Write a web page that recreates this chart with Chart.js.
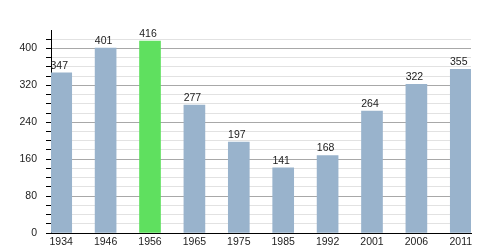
<!DOCTYPE html>
<html>
<head>
<meta charset="utf-8">
<script src="https://cdn.jsdelivr.net/npm/chart.js@4/dist/chart.umd.min.js"></script>
<style>
  html, body { margin: 0; padding: 0; background: #fff; }
  #wrap { width: 500px; height: 250px; }
</style>
</head>
<body>
<div id="wrap"><canvas id="popChart"></canvas></div>
<script>
// data dari grafik
const years = ['1934', '1946', '1956', '1965', '1975', '1985', '1992', '2001', '2006', '2011'];
const population = [347, 401, 416, 277, 197, 141, 168, 264, 322, 355];
const highlightYear = '1956';

const yMax = 440;
const yMinorStep = 20;
const yMajorStep = 80;

const barColor = '#99b3cc';
const highlightColor = '#5fe05f';
const fontFamily = '"Liberation Sans", Arial, sans-serif';

// label angka di atas batang
const valueLabels = {
  id: 'valueLabels',
  afterDatasetsDraw(chart) {
    const ctx = chart.ctx;
    const meta = chart.getDatasetMeta(0);
    ctx.save();
    ctx.font = '10.5px ' + fontFamily;
    ctx.fillStyle = '#222';
    ctx.textAlign = 'center';
    ctx.textBaseline = 'alphabetic';
    meta.data.forEach((bar, i) => {
      ctx.fillText(String(population[i]), bar.x - 2, bar.y - 4);
    });
    ctx.restore();
  }
};

const ctx = document.getElementById('popChart').getContext('2d');
new Chart(ctx, {
  type: 'bar',
  data: {
    datasets: [{
      data: population.map((v, i) => ({ x: i, y: v })),
      backgroundColor: population.map((v, i) => years[i] === highlightYear ? highlightColor : barColor),
      barThickness: 21,
      borderWidth: 0
    }]
  },
  options: {
    responsive: true,
    maintainAspectRatio: false,
    animation: false,
    layout: { padding: { left: 0, top: 30, right: 29, bottom: 0 } },
    plugins: {
      legend: { display: false },
      tooltip: { enabled: false }
    },
    scales: {
      x: {
        type: 'linear',
        offset: false,
        min: -0.23,
        max: 9.23,
        afterBuildTicks: (scale) => {
          scale.ticks = years.map((y, i) => ({ value: i }));
        },
        afterFit: (scale) => { scale.height = 17; },
        ticks: {
          autoSkip: false,
          maxRotation: 0,
          padding: 3,
          color: '#222',
          font: { family: fontFamily, size: 10.5 },
          callback: (value) => years[value]
        },
        grid: { drawOnChartArea: false, drawTicks: false },
        border: { color: '#000', width: 1 }
      },
      y: {
        min: 0,
        max: yMax,
        afterFit: (scale) => { scale.width = 51; },
        ticks: {
          stepSize: yMinorStep,
          maxTicksLimit: 40,
          autoSkip: false,
          padding: 9,
          color: '#222',
          font: { family: fontFamily, size: 10.5 },
          callback: (value) => value % yMajorStep === 0 ? value : ''
        },
        grid: {
          tickLength: 5,
          color: (c) => {
            if (!c.tick || c.tick.value >= yMax) return 'rgba(0,0,0,0)';
            return c.tick.value % yMajorStep === 0 ? '#a8a8a8' : '#e2e2e2';
          },
          tickColor: (c) => (c.tick && c.tick.value >= yMax) ? 'rgba(0,0,0,0)' : '#000'
        },
        border: { color: '#000', width: 1 }
      }
    }
  },
  plugins: [valueLabels]
});
</script>
</body>
</html>
